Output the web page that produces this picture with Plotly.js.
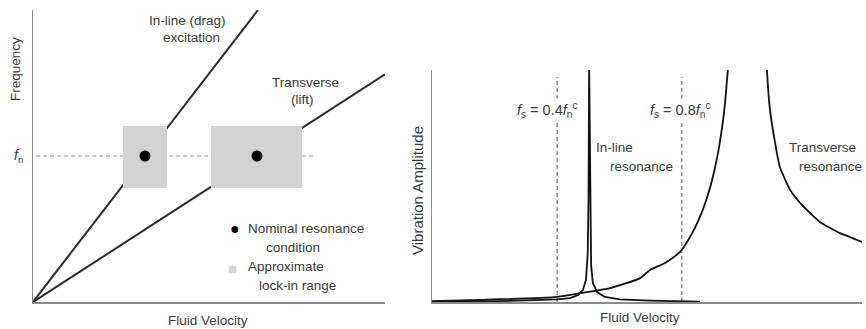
<!DOCTYPE html>
<html>
<head>
<meta charset="utf-8">
<script src="https://cdn.plot.ly/plotly-3.0.1.min.js"></script>
<style>html,body{margin:0;padding:0;background:#fff}#chart{width:866px;height:329px}</style>
</head>
<body>
<div id="chart"></div>
<script>
// ---------- Left panel data (frequency vs fluid velocity) ----------
const inlineExcV = [0, 6.43];
const inlineExcF = [0, 10];
const transExcV = [0, 10.06];
const transExcF = [0, 7.8];
const fnValue = 5;
const fnDashV = [0.09, 8.0];
const lockV0 = [2.57, 5.09];
const lockV1 = [3.83, 7.69];
const lockF0 = [3.9, 3.9];
const lockF1 = [6.03, 6.03];
const nominalV = [3.2, 6.4];
const nominalF = [5, 5];

// ---------- Right panel data (vibration amplitude vs fluid velocity) ----------
const transResV = [0, 1.12, 2.91, 3.49, 4.14, 4.84, 5.07, 5.42, 5.77, 6.0, 6.23, 6.47, 6.65, 6.79, 6.88, 6.93,
                   null, 7.77, 7.79, 7.86, 7.98, 8.09, 8.33, 8.56, 8.79, 9.02, 9.26, 9.49, 9.72, 10.0];
const transResA = [0.04, 0.09, 0.22, 0.39, 0.6, 1.03, 1.38, 1.68, 2.16, 2.8, 3.66, 4.96, 6.42, 8.15, 10.0, 11.3,
                   null, 11.3, 10.0, 8.28, 6.85, 5.82, 4.83, 4.27, 3.84, 3.45, 3.19, 2.97, 2.80, 2.59];
const inlineResV = [0, 1.58, 2.91, 3.21, 3.40, 3.51, 3.58, 3.62, 3.64, 3.65, 3.655, 3.67, 3.68, 3.70, 3.74, 3.84, 4.02, 4.37, 5.07, 5.77, 6.23];
const inlineResA = [0.02, 0.04, 0.11, 0.17, 0.30, 0.52, 0.95, 2.03, 4.4, 7.4, 10.2, 7.4, 3.53, 1.6, 0.82, 0.43, 0.22, 0.11, 0.06, 0.03, 0.01];
const fsV = [2.91, 5.81];
const fsTop = 9.7;

const W = 866, H = 329;
const px = x => x / W;
const py = y => 1 - y / H;

const lineDark = '#2b2b2b';
const boxGray = '#d3d3d3';
const textCol = '#3a3a3a';
const axisCol = '#8a8a8a';

const traces = [];
// left: fn dashed line
traces.push({x: fnDashV, y: [fnValue, fnValue], xaxis: 'x', yaxis: 'y', mode: 'lines',
  line: {color: '#8a8a8a', width: 1.2, dash: '4px,3px'}, hoverinfo: 'skip'});
// left: excitation lines
traces.push({x: inlineExcV, y: inlineExcF, xaxis: 'x', yaxis: 'y', mode: 'lines',
  line: {color: lineDark, width: 2}, hoverinfo: 'skip'});
traces.push({x: transExcV, y: transExcF, xaxis: 'x', yaxis: 'y', mode: 'lines',
  line: {color: lineDark, width: 2}, hoverinfo: 'skip'});
// left: lock-in boxes
for (let i = 0; i < lockV0.length; i++) {
  traces.push({x: [lockV0[i], lockV1[i], lockV1[i], lockV0[i], lockV0[i]],
    y: [lockF0[i], lockF0[i], lockF1[i], lockF1[i], lockF0[i]],
    xaxis: 'x', yaxis: 'y', mode: 'lines', fill: 'toself', fillcolor: boxGray,
    line: {width: 0, color: boxGray}, hoverinfo: 'skip'});
}
// left: nominal resonance dots
traces.push({x: nominalV, y: nominalF, xaxis: 'x', yaxis: 'y', mode: 'markers',
  marker: {color: '#000', size: 11}, hoverinfo: 'skip'});

// right: fs dashed lines
fsV.forEach(v => traces.push({x: [v, v], y: [0, fsTop], xaxis: 'x2', yaxis: 'y2', mode: 'lines',
  line: {color: '#555', width: 1, dash: '4px,3px'}, hoverinfo: 'skip'}));
// right: resonance curves
traces.push({x: inlineResV, y: inlineResA, xaxis: 'x2', yaxis: 'y2', mode: 'lines',
  line: {color: '#111', width: 1.8}, hoverinfo: 'skip'});
traces.push({x: transResV, y: transResA, xaxis: 'x2', yaxis: 'y2', mode: 'lines', connectgaps: false,
  line: {color: '#111', width: 1.8, shape: 'spline', smoothing: 0.6}, hoverinfo: 'skip'});

const font = {family: 'Liberation Sans, Arial, sans-serif', size: 13.5, color: textCol};
function ann(text, x, y, opts) {
  return Object.assign({text, x: px(x), y: py(y), xref: 'paper', yref: 'paper', showarrow: false,
    xanchor: 'center', yanchor: 'middle', font}, opts || {});
}
const annotations = [
  ann('In-line (drag)', 187, 20),
  ann('excitation', 191, 38),
  ann('Transverse', 305, 82),
  ann('(lift)', 302, 99),
  ann('Frequency', 15, 69, {textangle: -90}),
  ann('<i>f</i><sub>n</sub>', 18, 156, {font: Object.assign({}, font, {size: 14})}),
  ann('●', 235, 228, {font: Object.assign({}, font, {size: 16, color: '#000'})}),
  ann('Nominal resonance', 246, 228, {xanchor: 'left'}),
  ann('condition', 264, 247, {xanchor: 'left'}),
  ann('■', 233, 268, {font: Object.assign({}, font, {size: 15, color: '#d6d6d6'})}),
  ann('Approximate', 246, 266, {xanchor: 'left'}),
  ann('lock-in range', 257, 285, {xanchor: 'left'}),
  ann('Fluid Velocity', 208, 320),
  ann('Vibration Amplitude', 417, 191, {textangle: -90, font: Object.assign({}, font, {size: 15})}),
  ann('Fluid Velocity', 640, 317),
  ann('<i>f</i><sub>s</sub> = 0.4<i>f</i><sub>n</sub><sup>c</sup>', 547, 110, {bgcolor: '#fff', font: Object.assign({}, font, {size: 14.5})}),
  ann('<i>f</i><sub>s</sub> = 0.8<i>f</i><sub>n</sub><sup>c</sup>', 680, 110, {bgcolor: '#fff', font: Object.assign({}, font, {size: 14.5})}),
  ann('In-line', 614, 148),
  ann('resonance', 641, 166),
  ann('Transverse', 822, 148),
  ann('resonance', 830, 166)
];

const axBase = {showgrid: false, zeroline: false, showticklabels: false, ticks: '', showline: true,
  linecolor: axisCol, linewidth: 1.5, fixedrange: true};
const layout = {
  width: W, height: H, margin: {l: 0, r: 0, t: 0, b: 0},
  paper_bgcolor: '#fff', plot_bgcolor: '#fff', showlegend: false,
  xaxis: Object.assign({}, axBase, {domain: [px(33), px(385)], range: [0, 10.06]}),
  yaxis: Object.assign({}, axBase, {domain: [py(302), py(10)], range: [0, 10]}),
  xaxis2: Object.assign({}, axBase, {domain: [px(432), px(862)], range: [0, 10], anchor: 'y2'}),
  yaxis2: Object.assign({}, axBase, {domain: [py(302), py(70)], range: [0, 10], anchor: 'x2'}),
  annotations
};
Plotly.newPlot('chart', traces, layout, {displayModeBar: false, staticPlot: true});
</script>
</body>
</html>
